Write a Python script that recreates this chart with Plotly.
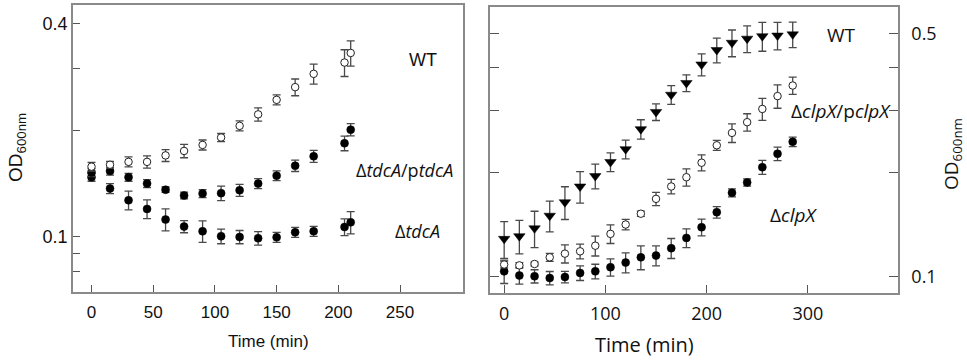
import plotly.graph_objects as go

# ---------------- Left panel (tdcA) ----------------
time_left = [0, 15, 30, 45, 60, 75, 90, 105, 120, 135, 150, 165, 180, 205, 210]
wt_left = [0.158, 0.160, 0.163, 0.163, 0.170, 0.175, 0.182, 0.191, 0.206, 0.222, 0.244, 0.265, 0.289, 0.311, 0.331]
wt_left_err = [0.0045, 0.0035, 0.0053, 0.0064, 0.0066, 0.0076, 0.0059, 0.0050, 0.0067, 0.0096, 0.0079, 0.0144, 0.0188, 0.027, 0.027]
comp_left = [0.152, 0.1535, 0.1475, 0.1415, 0.136, 0.131, 0.1326, 0.133, 0.1355, 0.1415, 0.149, 0.159, 0.169, 0.184, 0.201]
comp_left_err = [0.004, 0.004, 0.0038, 0.0037, 0.0024, 0.0028, 0.0035, 0.0063, 0.0053, 0.0046, 0.0048, 0.0059, 0.0066, 0.0088, 0.0079]
mut_left = [0.1475, 0.137, 0.127, 0.120, 0.112, 0.107, 0.1038, 0.1005, 0.100, 0.0992, 0.0998, 0.1031, 0.1038, 0.1067, 0.110]
mut_left_err = [0.0038, 0.0045, 0.0077, 0.0073, 0.008, 0.0042, 0.0072, 0.0048, 0.0043, 0.0043, 0.0032, 0.0034, 0.0034, 0.0058, 0.0079]

# ---------------- Right panel (clpX) ----------------
time_right = [0, 15, 30, 45, 60, 75, 90, 105, 120, 135, 150, 165, 180, 195, 210, 225, 240, 255, 270, 285]
wt_right = [0.1287, 0.131, 0.138, 0.150, 0.164, 0.182, 0.195, 0.214, 0.233, 0.266, 0.298, 0.334, 0.361, 0.408, 0.449, 0.471, 0.484, 0.492, 0.494, 0.498]
wt_right_err = [0.0156, 0.0145, 0.0165, 0.0152, 0.0177, 0.0189, 0.0159, 0.0132, 0.0144, 0.017, 0.0164, 0.0206, 0.0199, 0.0297, 0.0367, 0.0416, 0.0427, 0.0467, 0.0447, 0.0418]
comp_right = [0.1086, 0.108, 0.109, 0.1139, 0.1167, 0.1185, 0.123, 0.133, 0.1415, 0.152, 0.1677, 0.182, 0.1935, 0.213, 0.239, 0.2595, 0.2785, 0.304, 0.331, 0.355]
comp_right_err = [0.0024, 0.0019, 0.0014, 0.003, 0.007, 0.0058, 0.0081, 0.0082, 0.005, 0.0027, 0.0074, 0.0088, 0.0111, 0.0113, 0.0079, 0.016, 0.016, 0.0221, 0.0256, 0.0204]
mut_right = [0.1038, 0.101, 0.1005, 0.0993, 0.100, 0.1027, 0.1038, 0.1067, 0.110, 0.1139, 0.1152, 0.121, 0.1295, 0.139, 0.1535, 0.1745, 0.187, 0.2068, 0.226, 0.2446]
mut_right_err = [0.008, 0.0056, 0.0044, 0.0044, 0.0038, 0.005, 0.005, 0.0061, 0.0073, 0.009, 0.0076, 0.008, 0.008, 0.0077, 0.0058, 0.0046, 0.0045, 0.0096, 0.010, 0.0076]

# tick definitions
left_xticks = [0, 50, 100, 150, 200, 250]
left_yticks = [0.1, 0.4]
left_yticktext = ["0.1", "0.4"]
left_yminor = [0.08, 0.09, 0.2, 0.3]
right_xticks = [0, 100, 200, 300]
right_yticks = [0.1, 0.5]
right_yticktext = ["0.1", "0.5"]
right_yminor = [0.2, 0.3, 0.4]

ERR_COLOR = "#4a4a4a"
FRAME = "#8a8a8a"

def err(arr):
    return dict(type="data", array=arr, visible=True, color=ERR_COLOR, thickness=1.3, width=4)

fig = go.Figure()

filled = dict(symbol="circle", size=8, color="black", line=dict(color="black", width=0.5))
opened = dict(symbol="circle", size=7.5, color="white", line=dict(color="#222", width=1))
tri = dict(symbol="triangle-down", size=10, color="black", line=dict(color="black", width=0.5))

# left panel traces
fig.add_trace(go.Scatter(x=time_left, y=mut_left, mode="markers", marker=filled,
                         error_y=err(mut_left_err), xaxis="x", yaxis="y", showlegend=False))
fig.add_trace(go.Scatter(x=time_left, y=comp_left, mode="markers", marker=filled,
                         error_y=err(comp_left_err), xaxis="x", yaxis="y", showlegend=False))
fig.add_trace(go.Scatter(x=time_left, y=wt_left, mode="markers", marker=opened,
                         error_y=err(wt_left_err), xaxis="x", yaxis="y", showlegend=False))

# right panel traces
fig.add_trace(go.Scatter(x=time_right, y=mut_right, mode="markers", marker=filled,
                         error_y=err(mut_right_err), xaxis="x2", yaxis="y2", showlegend=False))
fig.add_trace(go.Scatter(x=time_right, y=comp_right, mode="markers", marker=opened,
                         error_y=err(comp_right_err), xaxis="x2", yaxis="y2", showlegend=False))
fig.add_trace(go.Scatter(x=time_right, y=wt_right, mode="markers", marker=tri,
                         error_y=err(wt_right_err), xaxis="x2", yaxis="y2", showlegend=False))

W, H = 967, 360
lx0, lx1, ly0, ly1 = 73, 463, 5, 292
rx0, rx1, ry0, ry1 = 490, 898, 7, 293

ARIAL = "Liberation Sans, Arial, sans-serif"
CAL = "Open Sans, Noto Sans, sans-serif"

common = dict(showgrid=False, zeroline=False, automargin=False, showline=True,
              linecolor=FRAME, linewidth=1.5, tickcolor="#555", tickwidth=1.2, ticks="inside")

def minor(vals, length):
    return dict(tickmode="array", tickvals=vals, ticks="inside", ticklen=length,
                tickcolor="#555", tickwidth=1.2, showgrid=False)

fig.update_layout(
    width=W, height=H,
    margin=dict(l=0, r=0, t=0, b=0, autoexpand=False),
    paper_bgcolor="white", plot_bgcolor="white",
    xaxis=dict(domain=[lx0 / W, lx1 / W], range=[-15, 301], tickvals=left_xticks,
               ticklen=7, mirror=True, ticklabelstandoff=4,
               tickfont=dict(family=ARIAL, size=17, color="#111"),
               anchor="y", **common),
    yaxis=dict(domain=[1 - ly1 / H, 1 - ly0 / H], type="log", range=[-1.1554, -0.3447],
               tickvals=left_yticks, ticktext=left_yticktext, minor=minor(left_yminor, 7),
               ticklen=7, mirror=True,
               tickfont=dict(family=ARIAL, size=18, color="#111"),
               anchor="x", **common),
    xaxis2=dict(domain=[rx0 / W, rx1 / W], range=[-14, 389], tickvals=right_xticks,
                ticklen=8, mirror=True, ticklabelstandoff=4,
                tickfont=dict(family=CAL, size=18, color="#111"),
                anchor="y2", **common),
    yaxis2=dict(domain=[1 - ry1 / H, 1 - ry0 / H], type="log", range=[-1.046, -0.2242],
                side="right", tickvals=right_yticks, ticktext=right_yticktext,
                minor=minor(right_yminor, 9),
                ticklen=9, mirror="ticks", ticklabelstandoff=8,
                tickfont=dict(family=CAL, size=18, color="#111"),
                anchor="x2", **common),
)

def lab(text, x, y, fam, size, angle=0):
    fig.add_annotation(text=text, x=x / W, y=1 - y / H, xref="paper", yref="paper",
                       showarrow=False, xanchor="center", yanchor="middle", textangle=angle,
                       font=dict(family=fam, size=size, color="#111"))

# axis titles
lab("Time (min)", 268, 341, ARIAL, 17)
lab("Time (min)", 644, 344, CAL, 20)
lab("OD<sub>600nm</sub>", 17, 148, ARIAL, 19, -90)
lab("OD<sub>600nm</sub>", 952, 154, CAL, 19, -90)

# curve labels
lab("WT", 423, 60, ARIAL, 18)
lab("Δ<i>tdcA</i>/p<i>tdcA</i>", 404, 170, CAL, 18)
lab("Δ<i>tdcA</i>", 417, 231, CAL, 18)
lab("WT", 841, 35, CAL, 19)
lab("Δ<i>clpX</i>/p<i>clpX</i>", 841, 111, CAL, 19)
lab("Δ<i>clpX</i>", 793, 215, CAL, 19)

fig.write_html("out.html", config={"displayModeBar": False},
               post_script="document.body.style.margin='0';document.body.style.overflow='hidden';")
